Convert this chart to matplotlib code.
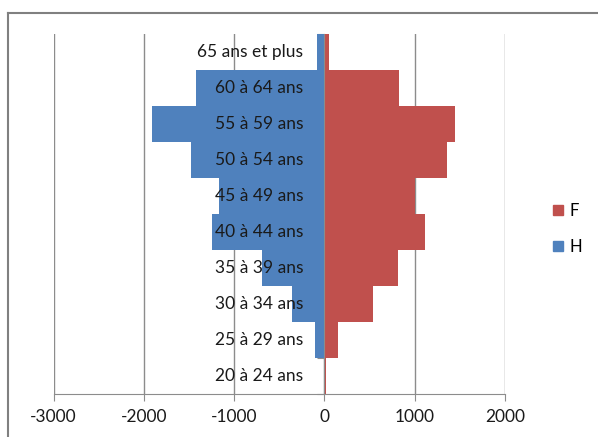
import numpy as np
import matplotlib.pyplot as plt
from matplotlib.patches import Patch
from matplotlib.transforms import offset_copy

plt.rcParams['font.family'] = ['Lato', 'DejaVu Sans']

# tranches d'âge, de la plus jeune à la plus âgée
tranches = ["20 à 24 ans", "25 à 29 ans", "30 à 34 ans", "35 à 39 ans",
            "40 à 44 ans", "45 à 49 ans", "50 à 54 ans", "55 à 59 ans",
            "60 à 64 ans", "65 ans et plus"]
hommes = [-10, -105, -360, -690, -1240, -1170, -1475, -1910, -1420, -85]
femmes = [20, 150, 540, 810, 1115, 1005, 1355, 1450, 825, 50]

bleu = "#4F81BD"
rouge = "#C0504D"
gris = "#8C8C8C"

fig = plt.figure(figsize=(5.98, 4.37), dpi=100)
ax = fig.add_axes([0.0895, 0.0984, 0.755, 0.8238])

y = np.arange(len(tranches))
ax.barh(y, hommes, height=1.0, color=bleu, zorder=2)
ax.barh(y, femmes, height=1.0, color=rouge, zorder=2)

ax.set_xlim(-3000, 2000)
ax.set_ylim(-0.5, len(tranches) - 0.5)
xt = [-3000, -2000, -1000, 0, 1000, 2000]
ax.set_xticks(xt)
ax.set_xticklabels([str(v) for v in xt], fontsize=12.5, color="#1a1a1a")
for v in xt:
    ax.axvline(v, color=gris, lw=1, zorder=0)

# axe vertical placé en 0, graduations entre les tranches
for s in ["top", "right"]:
    ax.spines[s].set_visible(False)
ax.spines["left"].set_position(("data", 0))
ax.spines["left"].set_color(gris)
ax.spines["left"].set_zorder(3)
ax.spines["bottom"].set_color(gris)
ax.set_yticks(np.arange(len(tranches) + 1) - 0.5)
ax.set_yticklabels([])
ax.tick_params(axis="y", length=5, color=gris, direction="out")
ax.tick_params(axis="x", length=5, color=gris, direction="out", pad=6)

trans = offset_copy(ax.transData, fig=fig, x=-21, y=0, units="dots")
for yi, lab in zip(y, tranches):
    ax.text(0, yi, lab, transform=trans, ha="right", va="center",
            fontsize=12.5, color="#1a1a1a", zorder=5)

fig.legend(handles=[Patch(color=rouge, label="F"), Patch(color=bleu, label="H")],
           loc="center left", bbox_to_anchor=(553 / 598, 1 - 229 / 437),
           frameon=False, fontsize=12, handlelength=0.6, handleheight=0.6,
           labelspacing=1.2, handletextpad=0.4, borderaxespad=0, borderpad=0)

# cadre du graphique
fig.add_artist(plt.Line2D([8 / 598, 8 / 598], [0, 1 - 13 / 437], color="#808080", lw=1.5))
fig.add_artist(plt.Line2D([8 / 598, 1], [1 - 13 / 437, 1 - 13 / 437], color="#808080", lw=1.5))

fig.savefig("out.png", dpi=100)
